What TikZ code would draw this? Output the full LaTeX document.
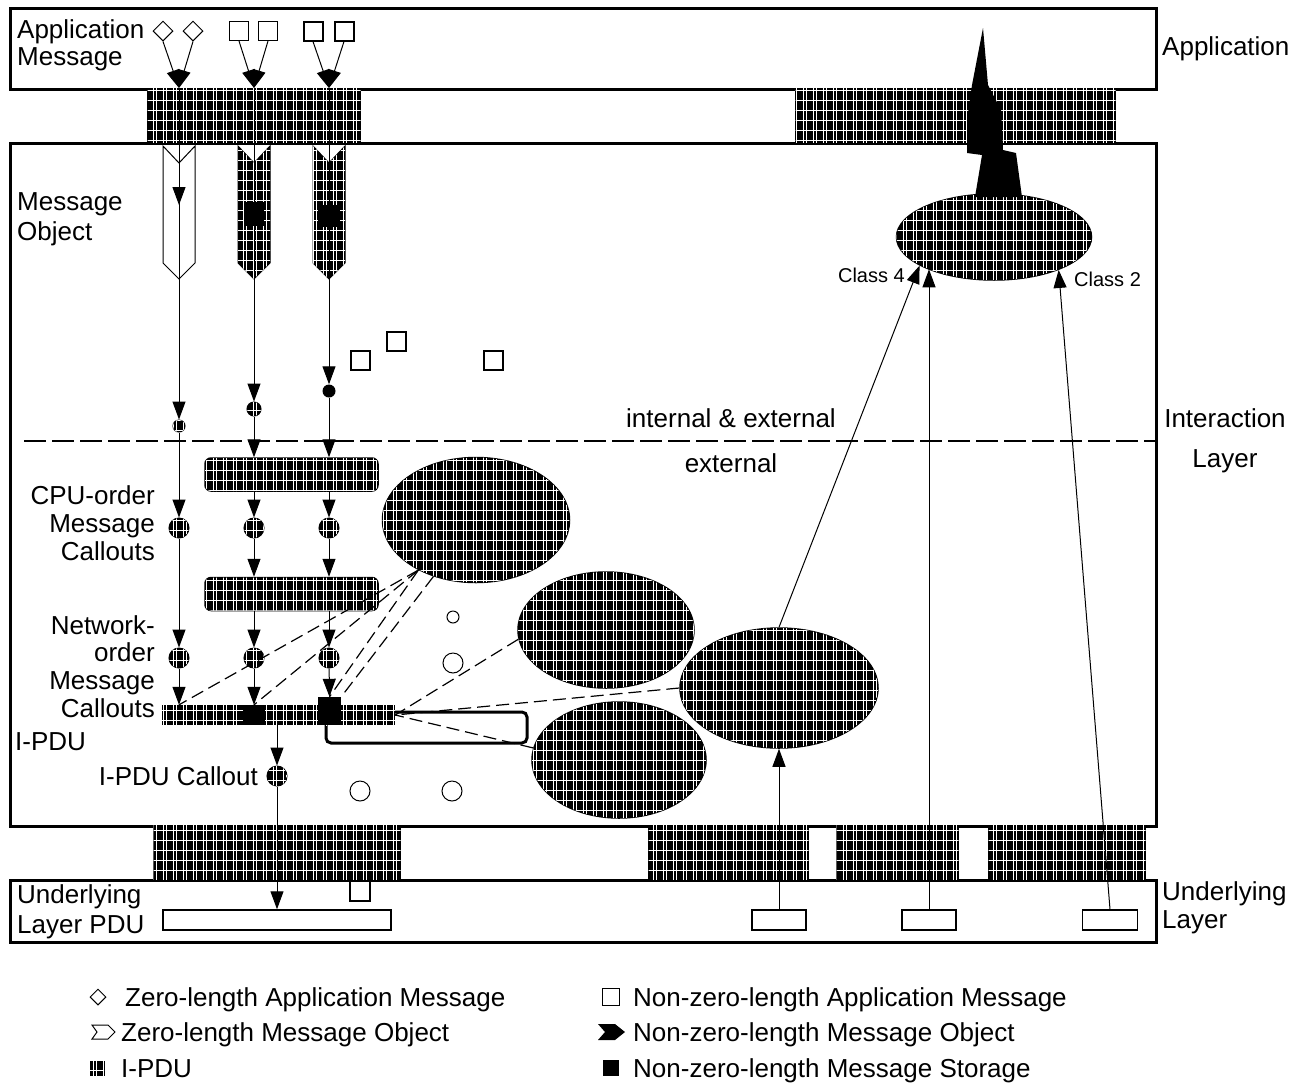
\documentclass[tikz,border=0pt]{standalone}
\usepackage{fontspec}
\setmainfont{Liberation Sans}
\usetikzlibrary{arrows.meta,shapes.geometric,patterns}
\pgfdeclarepatternformonly{hgrid}{\pgfqpoint{-1pt}{-1pt}}{\pgfqpoint{11pt}{11pt}}{\pgfqpoint{10pt}{10pt}}{%
  \pgfsetlinewidth{0.8pt}%
  \pgfpathmoveto{\pgfqpoint{0pt}{5pt}}\pgfpathlineto{\pgfqpoint{10pt}{5pt}}%
  \pgfusepath{stroke}%
  \pgfsetlinewidth{0.5pt}%
  \pgfpathmoveto{\pgfqpoint{3pt}{0pt}}\pgfpathlineto{\pgfqpoint{3pt}{10pt}}%
  \pgfpathmoveto{\pgfqpoint{6pt}{0pt}}\pgfpathlineto{\pgfqpoint{6pt}{10pt}}%
  \pgfusepath{stroke}}
\tikzset{
  hatch/.style={fill=black, postaction={pattern=hgrid, pattern color=white}},
  lbl/.style={font=\fontsize{26}{28}\selectfont, inner sep=0pt},
  smalllbl/.style={font=\fontsize{20}{22}\selectfont, inner sep=0pt},
  lay/.style={draw, line width=3pt, inner sep=0pt, anchor=north west},
  hbox/.style={hatch, draw, line width=1pt, inner sep=0pt, anchor=north west},
  arr/.style={-{Triangle[length=18pt,width=13pt]}, line width=1pt},
  thin/.style={line width=1pt},
  dsh/.style={dash pattern=on 13pt off 6pt, line width=1.2pt},
  sep/.style={dash pattern=on 22pt off 6pt, line width=2pt},
  callout/.style={circle, draw, line width=1pt, hatch, inner sep=0pt},
  ell/.style={ellipse, draw, line width=1.5pt, hatch, inner sep=0pt},
  rbox/.style={draw, line width=1.5pt, hatch, rounded corners=6pt, inner sep=0pt},
  pdurect/.style={draw, line width=1.5pt, fill=white, inner sep=0pt},
  sqr/.style={draw, line width=1pt, fill=white, inner sep=0pt, minimum size=19pt},
  store/.style={fill=black, inner sep=0pt},
}
\begin{document}
\begin{tikzpicture}[x=1pt,y=-1pt]
\useasboundingbox (0,0) rectangle (1307,1085);
\fill[white] (0,0) rectangle (1307,1085);

% layer boxes
\node[lay, minimum width=1146pt, minimum height=81pt] (app) at (9,7) {};
\node[lay, minimum width=1146pt, minimum height=683pt] (inter) at (9,142) {};
\node[lay, minimum width=1146pt, minimum height=62pt] (under) at (9,879) {};

% hatched service boxes
\node[hbox, minimum width=213pt, minimum height=54pt] (send) at (147,88) {};
\node[hbox, minimum width=320pt, minimum height=54pt] (getnot) at (795,88) {};
\node[hbox, minimum width=247pt, minimum height=54pt] (tx1) at (153,825) {};
\node[hbox, minimum width=160pt, minimum height=54pt] (tx2) at (648,825) {};
\node[hbox, minimum width=122pt, minimum height=54pt] (tx3) at (836,825) {};
\node[hbox, minimum width=157pt, minimum height=54pt] (tx4) at (988,825) {};

% labels
\node[lbl, anchor=base west] (lam1) at (17,38) {Application};
\node[lbl, anchor=base west] (lam2) at (17,65) {Message};
\node[lbl, anchor=base west] (lapp) at (1162,55) {Application};
\node[lbl, anchor=base west] (lmo1) at (17,210) {Message};
\node[lbl, anchor=base west] (lmo2) at (17,240) {Object};
\node[lbl, anchor=base] (lie) at (731,427) {internal \& external};
\node[lbl, anchor=base] (lex) at (731,472) {external};
\node[lbl, anchor=base] (lil1) at (1225,427) {Interaction};
\node[lbl, anchor=base] (lil2) at (1225,467) {Layer};
\node[lbl, anchor=base east] (lcpu1) at (155,504) {CPU-order};
\node[lbl, anchor=base east] (lcpu2) at (155,532) {Message};
\node[lbl, anchor=base east] (lcpu3) at (155,560) {Callouts};
\node[lbl, anchor=base east] (lnet1) at (155,634) {Network-};
\node[lbl, anchor=base east] (lnet2) at (155,661) {order};
\node[lbl, anchor=base east] (lnet3) at (155,689) {Message};
\node[lbl, anchor=base east] (lnet4) at (155,717) {Callouts};
\node[lbl, anchor=base west] (lipdu) at (15,750) {I-PDU};
\node[lbl, anchor=base east] (lcall) at (258,785) {I-PDU Callout};
\node[lbl, anchor=base west] (lul1) at (17,903) {Underlying};
\node[lbl, anchor=base west] (lul2) at (17,933) {Layer PDU};
\node[lbl, anchor=base west] (lur1) at (1162,900) {Underlying};
\node[lbl, anchor=base west] (lur2) at (1162,928) {Layer};
\node[smalllbl, anchor=base east] (lc4) at (905,282) {Class 4};
\node[smalllbl, anchor=base west] (lc2) at (1074,286) {Class 2};

% application messages
\node[diamond, aspect=1, draw, thin, inner sep=0pt, minimum size=20pt] (d1) at (163,31) {};
\node[diamond, aspect=1, draw, thin, inner sep=0pt, minimum size=20pt] (d2) at (193,31) {};
\node[sqr] (s1) at (239,31) {};
\node[sqr] (s2) at (268,31) {};
\node[sqr, line width=2pt] (s3) at (313,31) {};
\node[sqr, line width=2pt] (s4) at (344,31) {};
\coordinate (j1) at (179,88);
\coordinate (j2) at (254,88);
\coordinate (j3) at (329,88);
\draw[arr] (d1.south) -- (j1);
\draw[arr] (d2.south) -- (j1);
\draw[arr] (s1.south) -- (j2);
\draw[arr] (s2.south) -- (j2);
\draw[arr] (s3.south) -- (j3);
\draw[arr] (s4.south) -- (j3);

% message objects (chevrons)
\draw[thin, fill=white] (163,146) -- (179,163) -- (195,146) -- (195,263) -- (179,279) -- (163,263) -- cycle;
\draw[thin, hatch] (238,146) -- (254,163) -- (270,146) -- (270,263) -- (254,279) -- (238,263) -- cycle;
\draw[thin, hatch] (313,146) -- (329,163) -- (345,146) -- (345,263) -- (329,279) -- (313,263) -- cycle;
\node[store, minimum width=20pt, minimum height=24pt] (st2) at (254,214) {};
\node[store, minimum width=22pt, minimum height=22pt] (st3) at (329,216) {};
\coordinate (m1) at (179,205);

% callout points above separator
\node[callout, minimum size=12pt] (c1a) at (179,426) {};
\node[callout, minimum size=14pt] (c2a) at (254,409) {};
\node[circle, fill=black, inner sep=0pt, minimum size=13pt] (c3a) at (329,391) {};

% loose messages
\node[sqr, line width=2pt] (q1) at (360,360) {};
\node[sqr, line width=2pt] (q2) at (396,341) {};
\node[sqr, line width=2pt] (q3) at (493,360) {};

% separator
\coordinate (dl) at (24,441);
\draw[sep] (dl) -- (dl -| inter.east);

% filter boxes
\node[rbox, minimum width=173pt, minimum height=33pt] (sendf) at (291.5,474.5) {};
\node[rbox, minimum width=173pt, minimum height=33pt] (byteo) at (291.5,594) {};

% callout circles
\node[callout, minimum size=20pt] (c1b) at (179,528) {};
\node[callout, minimum size=20pt] (c2b) at (254,528) {};
\node[callout, minimum size=20pt] (c3b) at (329,528) {};
\node[callout, minimum size=20pt] (c1c) at (179,658) {};
\node[callout, minimum size=20pt] (c2c) at (254,658) {};
\node[callout, minimum size=20pt] (c3c) at (329,658) {};

% I-PDU
\node[draw, line width=3pt, rounded corners=5pt, minimum width=201pt, minimum height=31pt, inner sep=0pt] (loop) at (426.5,727.5) {};
\node[hatch, inner sep=0pt, minimum width=233pt, minimum height=20pt] (ipdu) at (278.5,715) {};
\node[store, minimum width=22pt, minimum height=20pt] (st2b) at (254,715) {};
\node[store, minimum width=23pt, minimum height=28pt] (st3b) at (329.5,711) {};
\node[callout, minimum size=20pt] (c4) at (277,776) {};

% small circles
\node[circle, draw, thin, fill=white, inner sep=0pt, minimum size=12pt] (o1) at (453,617) {};
\node[circle, draw, thin, fill=white, inner sep=0pt, minimum size=20pt] (o2) at (453,663) {};
\node[circle, draw, thin, fill=white, inner sep=0pt, minimum size=20pt] (o3) at (360,791) {};
\node[circle, draw, thin, fill=white, inner sep=0pt, minimum size=20pt] (o4) at (452,791) {};

% ellipses
\node[ell, minimum width=187pt, minimum height=125pt] (filt) at (476,520) {};
\node[ell, minimum width=176pt, minimum height=116pt] (e2) at (606,630) {};
\node[ell, minimum width=174pt, minimum height=116pt] (e3) at (619,760) {};
\node[ell, minimum width=198pt, minimum height=120pt] (dlm) at (779,688) {};
\node[ell, minimum width=195pt, minimum height=86pt] (notif) at (994,237) {};

% spike
\fill[black] (983,28) -- (988,85) -- (1001,110) -- (1003,150) -- (1016,153) -- (1022,197) -- (975,197) -- (982,155) -- (967,153) -- (967,120) -- (972,85) -- cycle;

% column flows
\draw[thin] (j1) -- (m1);
\draw[arr] (j1) -- (m1);
\draw[arr] (m1) -- (c1a);
\draw[thin] (j2) -- (st2);
\draw[arr] (st2) -- (c2a);
\draw[thin] (j3) -- (st3);
\draw[arr] (st3) -- (c3a);

\draw[arr] (c1a) -- (c1b);
\draw[arr] (c1b) -- (c1c);
\draw[arr] (c1c) -- (c1c |- ipdu.north);
\draw[arr] (c2a) -- (c2a |- sendf.north);
\draw[arr] (c3a) -- (c3a |- sendf.north);
\draw[arr] (c2b |- sendf.south) -- (c2b);
\draw[arr] (c3b |- sendf.south) -- (c3b);
\draw[arr] (c2b) -- (c2b |- byteo.north);
\draw[arr] (c3b) -- (c3b |- byteo.north);
\draw[arr] (c2c |- byteo.south) -- (c2c);
\draw[arr] (c3c |- byteo.south) -- (c3c);
\draw[arr] (c2c) -- (st2b.north);
\draw[arr] (c3c) -- (st3b.north);
\draw[arr] (c4 |- ipdu.south) -- (c4);

% underlying layer
\node[pdurect, minimum width=228pt, minimum height=20pt] (updu) at (277,920) {};
\node[sqr, minimum size=20pt, line width=1.5pt] (usq) at (360,891) {};
\node[pdurect, minimum width=54pt, minimum height=20pt] (pdu1) at (779,920) {};
\node[pdurect, minimum width=54pt, minimum height=20pt] (pdu2) at (929,920) {};
\node[pdurect, minimum width=55pt, minimum height=20pt] (pdu3) at (1110,920) {};
\draw[arr] (c4) -- (c4 |- updu.north);

% dashed relations
\draw[dsh] (filt.221) -- (c1c |- ipdu.north);
\draw[dsh] (filt.221) -- (st2b.north);
\draw[dsh] (filt.221) -- (st3b.north);
\draw[dsh] (filt.233) -- (st3b.north east);
\draw[dsh] (e2.186) -- (ipdu.east);
\draw[dsh] (dlm.west) -- (ipdu.east);
\draw[dsh] (e3.172) -- (ipdu.east);

% arrows to monitoring / notification
\draw[arr] (pdu1.north) -- (dlm.south);
\draw[arr] (dlm.north) -- (notif.201);
\draw[arr] (pdu2.north) -- (pdu2.north |- notif.206);
\draw[arr] (pdu3.north) -- (notif.333);

% legend
\node[diamond, aspect=1, draw, thin, inner sep=0pt, minimum size=16pt] (lgd1) at (98,997) {};
\node[lbl, anchor=base west] (lgt1) at (125,1006) {Zero-length Application Message};
\draw[thin, fill=white] (92,1025) -- (108,1025) -- (115,1032) -- (108,1039) -- (92,1039) -- (97,1032) -- cycle;
\node[lbl, anchor=base west] (lgt2) at (121,1041) {Zero-length Message Object};
\node[hatch, draw, thin, inner sep=0pt, minimum size=14pt] (lgd3) at (97,1068) {};
\node[lbl, anchor=base west] (lgt3) at (121,1077) {I-PDU};
\node[sqr, minimum size=17pt] (lgd4) at (611,997) {};
\node[lbl, anchor=base west] (lgt4) at (633,1006) {Non-zero-length Application Message};
\fill[black] (598,1024) -- (615,1024) -- (625,1032) -- (615,1040) -- (598,1040) -- (605,1032) -- cycle;
\node[lbl, anchor=base west] (lgt5) at (633,1041) {Non-zero-length Message Object};
\node[store, minimum size=16pt] (lgd6) at (611,1068) {};
\node[lbl, anchor=base west] (lgt6) at (633,1077) {Non-zero-length Message Storage};
\end{tikzpicture}
\end{document}
